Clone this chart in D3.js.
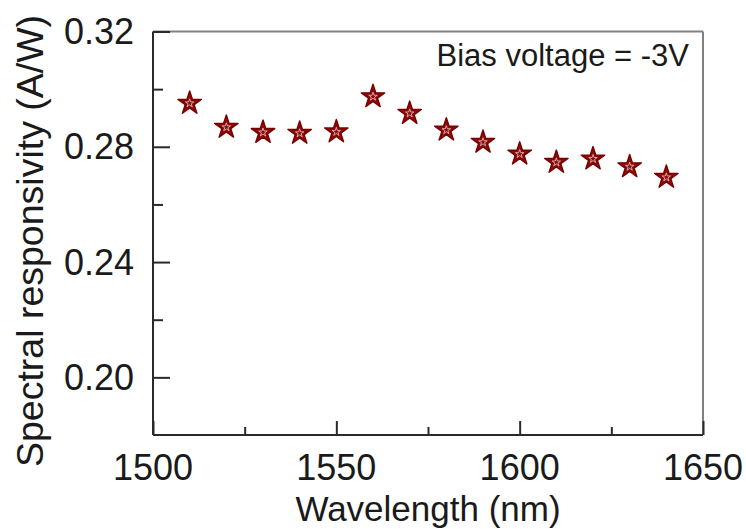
<!DOCTYPE html>
<html>
<head>
<meta charset="utf-8">
<script src="https://cdn.jsdelivr.net/npm/d3@7"></script>
<style>
  body { margin: 0; background: #fff; }
  text { font-family: "Liberation Sans", Arial, sans-serif; fill: #1a1a1a; }
</style>
</head>
<body>
<svg id="chart" width="746" height="529"></svg>
<script>
(() => {
    // data
    const wavelengths = [1510, 1520, 1530, 1540, 1550, 1560, 1570, 1580, 1590, 1600, 1610, 1620, 1630, 1640];
    const responsivity = [0.2951, 0.2868, 0.2850, 0.2847, 0.2852, 0.2974, 0.2916, 0.2858, 0.2816, 0.2775, 0.2746, 0.2758, 0.2731, 0.2694];
    const xTicks = [1500, 1550, 1600, 1650];
    const xMinor = [1525, 1575, 1625];
    const yTicks = [0.20, 0.24, 0.28, 0.32];
    const yMinor = [0.22, 0.26, 0.30];

    const svg = d3.select("svg#chart");
    const left = 153, right = 703, top = 31.5, bottom = 435;

    const x = d3.scaleLinear().domain([1500, 1650]).range([left, right]);
    const y = d3.scaleLinear().domain([0.18, 0.32]).range([bottom, top]);

    // frame: top and right in grey
    svg.append("line")
        .attr("x1", left).attr("x2", right).attr("y1", top).attr("y2", top)
        .style("stroke", "#808080").style("stroke-width", 2);
    svg.append("line")
        .attr("x1", right).attr("x2", right).attr("y1", top).attr("y2", bottom)
        .style("stroke", "#808080").style("stroke-width", 2);

    // bottom axis, ticks pointing inward
    svg.append("g")
        .attr("transform", `translate(0, ${bottom})`)
        .call(d3.axisTop(x).tickValues(xTicks).tickSize(14).tickFormat(""));
    svg.append("g")
        .attr("transform", `translate(0, ${bottom})`)
        .call(d3.axisTop(x).tickValues(xMinor).tickSize(8).tickFormat(""));

    // left axis, ticks pointing inward
    svg.append("g")
        .attr("transform", `translate(${left}, 0)`)
        .call(d3.axisRight(y).tickValues(yTicks).tickSize(17).tickFormat(""));
    svg.append("g")
        .attr("transform", `translate(${left}, 0)`)
        .call(d3.axisRight(y).tickValues(yMinor).tickSize(10).tickFormat(""));

    svg.selectAll(".domain").remove();
    svg.append("line")
        .attr("x1", left).attr("x2", right).attr("y1", bottom).attr("y2", bottom)
        .style("stroke", "#2a2a2a").style("stroke-width", 2);
    svg.append("line")
        .attr("x1", left).attr("x2", left).attr("y1", top).attr("y2", bottom)
        .style("stroke", "#2a2a2a").style("stroke-width", 2);
    svg.selectAll(".tick line")
        .style("stroke", "#2a2a2a").style("stroke-width", 2);

    // tick labels
    svg.selectAll("text.xlab")
        .data(xTicks)
        .enter().append("text")
        .attr("class", "xlab")
        .attr("x", d => x(d))
        .attr("y", 480)
        .attr("text-anchor", "middle")
        .style("font-size", "36px")
        .text(d => d);

    svg.selectAll("text.ylab")
        .data(yTicks)
        .enter().append("text")
        .attr("class", "ylab")
        .attr("x", 134)
        .attr("y", d => y(d) + 12.5)
        .attr("text-anchor", "end")
        .style("font-size", "36px")
        .text(d => d.toFixed(2));

    // axis titles
    svg.append("text")
        .attr("x", (left + right) / 2)
        .attr("y", 521)
        .attr("text-anchor", "middle")
        .style("font-size", "35px")
        .text("Wavelength (nm)");

    svg.append("text")
        .attr("transform", "translate(43, 241) rotate(-90)")
        .attr("text-anchor", "middle")
        .style("font-size", "37.5px")
        .text("Spectral responsivity (A/W)");

    svg.append("text")
        .attr("x", 689)
        .attr("y", 66)
        .attr("text-anchor", "end")
        .style("font-size", "31px")
        .text("Bias voltage = -3V");

    // star markers
    const points = wavelengths.map((w, i) => ({w: w, r: responsivity[i]}));
    const outer = d3.symbol().type(d3.symbolStar).size(170);
    const inner = d3.symbol().type(d3.symbolStar).size(22);

    const marks = svg.append("g")
        .selectAll("g")
        .data(points)
        .enter().append("g")
        .attr("transform", d => `translate(${x(d.w)}, ${y(d.r)})`);
    marks.append("path")
        .attr("d", outer)
        .style("fill", "#8b0a0a")
        .style("stroke", "#7a0000")
        .style("stroke-width", 1.4)
        .style("stroke-linejoin", "round");
    marks.append("path")
        .attr("d", inner)
        .style("fill", "none")
        .style("stroke", "#e6c4c4")
        .style("stroke-width", 0.8);
})();
</script>
</body>
</html>
